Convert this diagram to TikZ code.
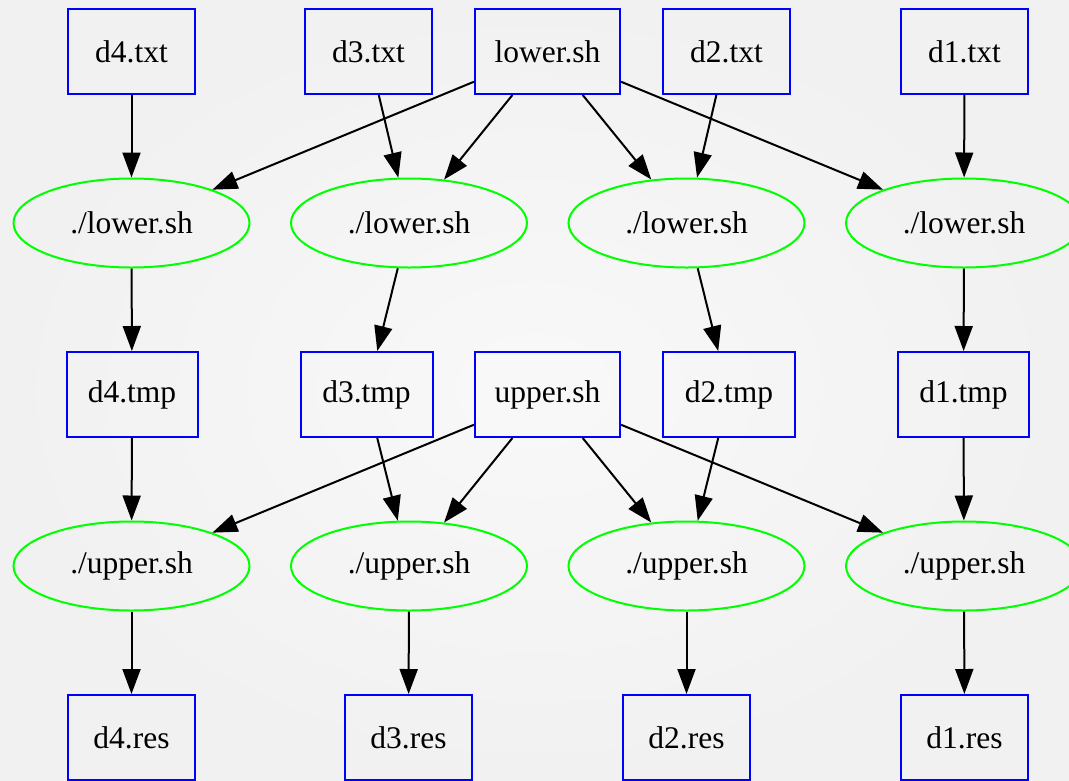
\documentclass[tikz,border=0pt]{standalone}
\usepackage{fontspec}
\setmainfont{Liberation Serif}
\usetikzlibrary{shapes.geometric,arrows.meta}
\begin{document}
\begin{tikzpicture}[x=1pt,y=-1pt,
  box/.style={draw=blue,line width=2pt,rectangle,inner sep=0pt,minimum height=85pt,font=\fontsize{31.5}{38}\selectfont},
  oval/.style={draw=green,line width=2pt,ellipse,inner sep=0pt,minimum width=236pt,minimum height=89pt,font=\fontsize{31.5}{38}\selectfont},
  edge/.style={line width=2pt,-{Triangle[length=25pt,width=18pt]}}]
\shade[inner color=white!97.5!black,outer color=white!94.5!black] (0,0) rectangle (1069,780);
\useasboundingbox (0,0) rectangle (1069,780);
% row 1
\node[box,minimum width=127pt] (d4txt) at (131.5,51.5) {d4.txt};
\node[box,minimum width=127pt] (d3txt) at (368.5,51.5) {d3.txt};
\node[box,minimum width=145pt] (lower) at (547.5,51.5) {lower.sh};
\node[box,minimum width=127pt] (d2txt) at (726.5,51.5) {d2.txt};
\node[box,minimum width=127pt] (d1txt) at (964.5,51.5) {d1.txt};
% row 2
\node[oval] (l4) at (131.5,223) {./lower.sh};
\node[oval] (l3) at (409,223) {./lower.sh};
\node[oval] (l2) at (686.5,223) {./lower.sh};
\node[oval] (l1) at (964,223) {./lower.sh};
% row 3
\node[box,minimum width=131pt] (d4tmp) at (132,394.5) {d4.tmp};
\node[box,minimum width=132pt] (d3tmp) at (366.5,394.5) {d3.tmp};
\node[box,minimum width=145pt] (upper) at (547.5,394.5) {upper.sh};
\node[box,minimum width=132pt] (d2tmp) at (729,394.5) {d2.tmp};
\node[box,minimum width=131pt] (d1tmp) at (963.5,394.5) {d1.tmp};
% row 4
\node[oval] (u4) at (131.5,566) {./upper.sh};
\node[oval] (u3) at (409,566) {./upper.sh};
\node[oval] (u2) at (686.5,566) {./upper.sh};
\node[oval] (u1) at (964,566) {./upper.sh};
% row 5
\node[box,minimum width=127pt] (d4res) at (131.5,737.5) {d4.res};
\node[box,minimum width=127pt] (d3res) at (408.5,737.5) {d3.res};
\node[box,minimum width=127pt] (d2res) at (686.5,737.5) {d2.res};
\node[box,minimum width=127pt] (d1res) at (964.5,737.5) {d1.res};
% edges
\draw[edge] (d4txt) -- (l4);
\draw[edge] (d3txt) -- (l3);
\draw[edge] (d2txt) -- (l2);
\draw[edge] (d1txt) -- (l1);
\draw[edge] (lower) -- (l4);
\draw[edge] (lower) -- (l3);
\draw[edge] (lower) -- (l2);
\draw[edge] (lower) -- (l1);
\draw[edge] (l4) -- (d4tmp);
\draw[edge] (l3) -- (d3tmp);
\draw[edge] (l2) -- (d2tmp);
\draw[edge] (l1) -- (d1tmp);
\draw[edge] (d4tmp) -- (u4);
\draw[edge] (d3tmp) -- (u3);
\draw[edge] (d2tmp) -- (u2);
\draw[edge] (d1tmp) -- (u1);
\draw[edge] (upper) -- (u4);
\draw[edge] (upper) -- (u3);
\draw[edge] (upper) -- (u2);
\draw[edge] (upper) -- (u1);
\draw[edge] (u4) -- (d4res);
\draw[edge] (u3) -- (d3res);
\draw[edge] (u2) -- (d2res);
\draw[edge] (u1) -- (d1res);
\end{tikzpicture}
\end{document}
